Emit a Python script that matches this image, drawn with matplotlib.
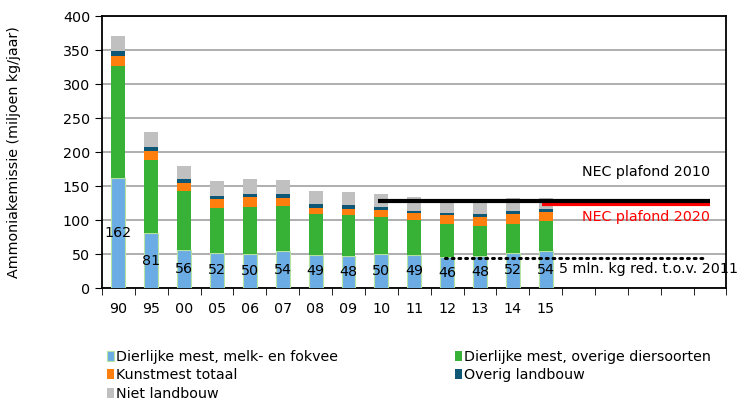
import numpy as np
import matplotlib.pyplot as plt

# jaren (laatste twee cijfers), 5 lege posities rechts voor de plafondlijnen
jaren = ['90', '95', '00', '05', '06', '07', '08', '09', '10', '11', '12', '13', '14', '15']
n_slots = 19

melkvee = [162, 81, 56, 52, 50, 54, 49, 48, 50, 49, 46, 48, 52, 54]
overig_dier = [165, 107, 87, 66, 69, 67, 60, 59, 54, 51, 48, 43, 43, 44]
kunstmest = [14, 14, 12, 13, 15, 12, 9, 10, 11, 10, 13, 13, 14, 14]
overig_landbouw = [7, 6, 5, 5, 5, 5, 5, 5, 5, 4, 4, 5, 4, 4]
niet_landbouw = [23, 22, 20, 22, 22, 21, 20, 19, 19, 20, 20, 16, 20, 17]

nec_2010 = 128
nec_2020 = 124
red_5mln = 44

c_blauw = '#6cace4'
c_groen = '#38b236'
c_oranje = '#ff7f0e'
c_donker = '#0e5777'
c_grijs = '#c0c0c0'

plt.rcParams['font.family'] = 'DejaVu Sans'
fs = 10.3

fig = plt.figure(figsize=(7.47, 4.03), dpi=100)
ax = fig.add_axes([0.1365, 0.285, 0.836, 0.675])

x = np.arange(len(jaren))
w = 0.42
bottom = np.zeros(len(jaren))

series = [
    (melkvee, c_blauw, 'Dierlijke mest, melk- en fokvee'),
    (overig_dier, c_groen, 'Dierlijke mest, overige diersoorten'),
    (kunstmest, c_oranje, 'Kunstmest totaal'),
    (overig_landbouw, c_donker, 'Overig landbouw'),
    (niet_landbouw, c_grijs, 'Niet landbouw'),
]
handles = {}
for vals, col, lab in series:
    if col == c_blauw:
        bars = ax.bar(x, vals, w, bottom=bottom, color=col, edgecolor='#b5e3a0',
                      linewidth=0.8, label=lab, zorder=3)
        ax.bar_label(bars, labels=[str(v) for v in vals], label_type='center',
                     fontsize=fs, color='black', zorder=5)
    else:
        bars = ax.bar(x, vals, w, bottom=bottom, color=col, linewidth=0,
                      label=lab, zorder=3)
    handles[lab] = bars
    bottom += np.array(vals)

# plafondlijnen
ax.plot([7.9, 18.0], [nec_2010, nec_2010], color='black', lw=3, zorder=6, solid_capstyle='butt')
ax.plot([12.9, 18.0], [nec_2020, nec_2020], color='red', lw=3, zorder=5, solid_capstyle='butt')
ax.plot([9.95, 17.9], [red_5mln, red_5mln], color='black', lw=2.2, ls=(0, (0.6, 1.6)),
        zorder=6, dash_capstyle='round')

ax.text(18.0, 171, 'NEC plafond 2010', ha='right', va='center', fontsize=fs)
ax.text(18.0, 105, 'NEC plafond 2020', ha='right', va='center', fontsize=fs, color='red')
ax.text(13.4, 28, '5 mln. kg red. t.o.v. 2011', ha='left', va='center', fontsize=fs)

ax.set_xlim(-0.5, n_slots - 0.5)
ax.set_ylim(0, 400)
ax.set_yticks(range(0, 401, 50))
ax.set_xticks(x)
ax.set_xticklabels(jaren)
ax.set_xticks(np.arange(-0.5, n_slots, 1), minor=True)
ax.tick_params(axis='x', which='major', length=0, labelsize=fs, pad=10)
ax.tick_params(axis='x', which='minor', length=5, direction='out')
ax.tick_params(axis='y', length=5, labelsize=fs)
ax.yaxis.grid(True, color='#a8a8a8', lw=1.3, zorder=0)
ax.set_axisbelow(True)
for s in ax.spines.values():
    s.set_linewidth(1.3)
ax.set_ylabel('Ammoniakemissie (miljoen kg/jaar)', fontsize=fs, labelpad=30)

order = ['Dierlijke mest, melk- en fokvee', 'Kunstmest totaal', 'Niet landbouw',
         'Dierlijke mest, overige diersoorten', 'Overig landbouw']
fig.legend([handles[k] for k in order], order, ncol=2, loc='upper left',
           bbox_to_anchor=(0.134, 0.15), frameon=False, fontsize=fs,
           handlelength=0.45, handleheight=0.7, handletextpad=0.15,
           columnspacing=8.2, labelspacing=0.33, borderpad=0)

fig.savefig('out.png', dpi=100)
